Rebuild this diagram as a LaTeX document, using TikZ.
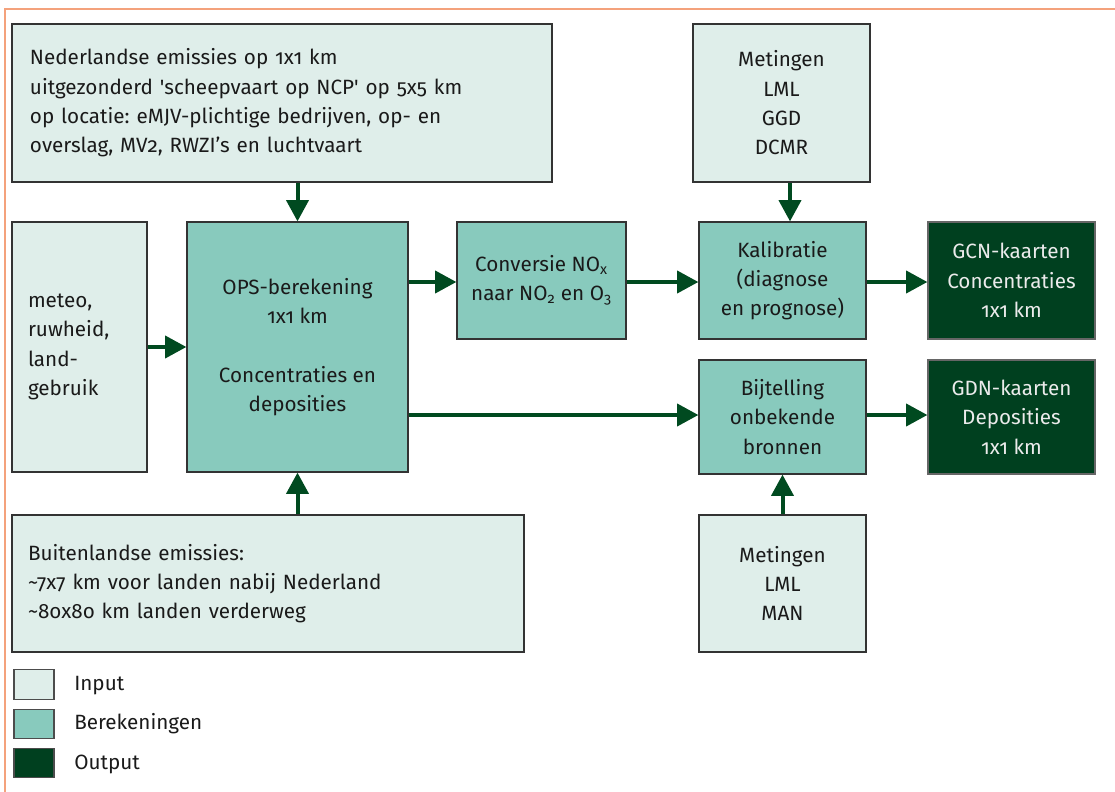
\documentclass[tikz,border=0pt]{standalone}
\usepackage{fontspec}
\setmainfont{Fira Sans}[Numbers=OldStyle]
\usetikzlibrary{arrows.meta,calc}
\frenchspacing
\definecolor{lightc}{HTML}{DFEEEA}
\definecolor{tealc}{HTML}{88CABD}
\definecolor{darkc}{HTML}{00401F}
\definecolor{arrc}{HTML}{004A20}
\definecolor{framec}{HTML}{F4A27C}
\definecolor{txt}{HTML}{1A1A1A}
\tikzset{
  base/.style={draw=black!80, line width=0.9pt, inner sep=0pt, text=txt,
    font=\fontsize{15.5}{22}\selectfont},
  inbox/.style={base, fill=lightc},
  calcbox/.style={base, fill=tealc},
  outbox/.style={base, fill=darkc, draw=black!60, text=white!92!black},
  arr/.style={draw=arrc, line width=3pt, -{Triangle[length=16pt,width=16.5pt]}},
  legbox/.style={draw=black!70, line width=0.9pt, minimum width=30pt, minimum height=22pt, inner sep=0pt},
  legtxt/.style={anchor=west, inner sep=0pt, text=txt, font=\fontsize{15.5}{22}\selectfont}
}
% #1 name, #2 x1, #3 y1, #4 x2, #5 y2, #6 style, #7 text
\newcommand\bx[7]{\node[#6, minimum width={(#4-#2)*0.75pt}, minimum height={(#5-#3)*0.75pt}, align=center] (#1) at ({(#2+#4)/2},{(#3+#5)/2}) {#7};}
% left aligned text box, #8 left padding px
\newcommand\lbx[8]{\node[#6, minimum width={(#4-#2)*0.75pt}, minimum height={(#5-#3)*0.75pt}, inner xsep={#8*0.75pt}, text width={(#4-#2-2*#8)*0.75pt}, align=left] (#1) at ({(#2+#4)/2},{(#3+#5)/2}) {#7};}
\begin{document}
\begin{tikzpicture}[x=0.75pt,y=-0.75pt]
\useasboundingbox (0,0) rectangle (1115,792);
\fill[white] (0,0) rectangle (1115,792);
\coordinate (fa) at (5,792);
\coordinate (fb) at (5,9);
\coordinate (fc) at (1115,9);
\draw[framec, line width=1.6pt] (fa) -- (fb) -- (fc);

\lbx{A}{12}{24}{552}{182}{inbox}{Nederlandse emissies op 1x1 km\\uitgezonderd \textquotesingle scheepvaart op NCP\textquotesingle\ op 5x5 km\\op locatie: eMJV-plichtige bedrijven, op- en\\overslag, MV2, RWZI’s en luchtvaart}{18}
\lbx{B}{12}{222}{147}{472}{inbox}{meteo,\\ruwheid,\\land-\\gebruik}{16}
\bx{C}{187}{222}{408}{472}{calcbox}{OPS-berekening\\1x1 km\\[22pt]Concentraties en\\deposities}
\lbx{D}{12}{515}{524}{652}{inbox}{Buitenlandse emissies:\\\char`\~7x7 km voor landen nabij Nederland\\\char`\~8ox8o km landen verderweg}{16}
\bx{E}{457}{222}{626}{339}{calcbox}{Conversie NO\textsubscript{x}\\naar NO\textsubscript{2} en O\textsubscript{3}}
\bx{F}{693}{24}{870}{182}{inbox}{Metingen\\LML\\GGD\\DCMR}
\bx{G}{699}{222}{866}{339}{calcbox}{Kalibratie\\(diagnose\\en prognose)}
\bx{H}{928}{222}{1095}{339}{outbox}{GCN-kaarten\\Concentraties\\1x1 km}
\bx{I}{699}{360}{866}{474}{calcbox}{Bijtelling\\onbekende\\bronnen}
\bx{J}{928}{360}{1095}{474}{outbox}{GDN-kaarten\\Deposities\\1x1 km}
\bx{K}{699}{515}{866}{652}{inbox}{Metingen\\LML\\MAN}

\draw[arr] (A.south -| C.north) -- (C.north);
\draw[arr] (D.north -| C.south) -- (C.south);
\draw[arr] (B.east) -- (C.west |- B.east);
\draw[arr] (C.east |- 0,282) -- (E.west |- 0,282);
\draw[arr] (E.east |- 0,282) -- (G.west |- 0,282);
\draw[arr] (G.east |- 0,282) -- (H.west |- 0,282);
\draw[arr] (C.east |- 0,415) -- (I.west |- 0,415);
\draw[arr] (I.east |- 0,415) -- (J.west |- 0,415);
\draw[arr] (F.south -| 790,0) -- (G.north -| 790,0);
\draw[arr] (K.north) -- (I.south);

\node[legbox, fill=lightc] (L1) at (34,684.5) {};
\node[legbox, fill=tealc] (L2) at (34,724) {};
\node[legbox, fill=darkc] (L3) at (34,763) {};
\node[legtxt] (T1) at (74,686) {Input};
\node[legtxt] (T2) at (74,724) {Berekeningen};
\node[legtxt] (T3) at (74,764) {Output};
\end{tikzpicture}
\end{document}
